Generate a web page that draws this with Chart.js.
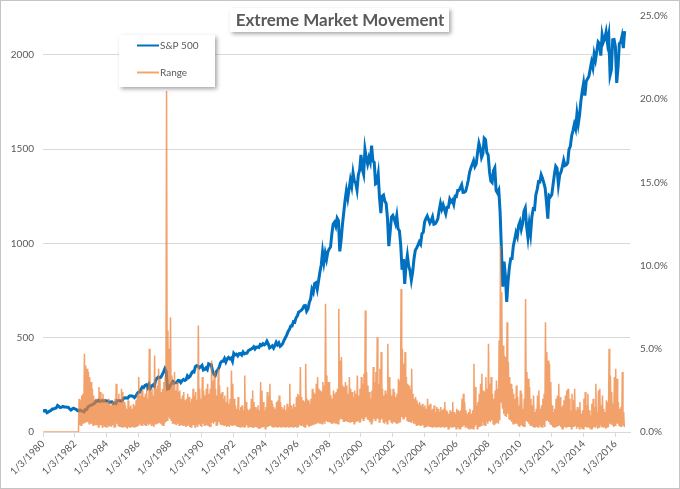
<!DOCTYPE html>
<html>
<head>
<meta charset="utf-8">
<script src="https://cdn.jsdelivr.net/npm/chart.js@4.4.1/dist/chart.umd.min.js"></script>
<style>
  html, body { margin: 0; padding: 0; background: #fff; }
  #wrap { width: 680px; height: 489px; }
</style>
</head>
<body>
<div id="wrap"><canvas id="MarketChart" width="680" height="489"></canvas></div>
<script>
// Extreme Market Movement: S&P 500 (left axis) vs daily range (right axis, %)

const startYear = 1980;

const tickLabels = [
  '1/3/1980', '1/3/1982', '1/3/1984', '1/3/1986', '1/3/1988', '1/3/1990',
  '1/3/1992', '1/3/1994', '1/3/1996', '1/3/1998', '1/3/2000', '1/3/2002',
  '1/3/2004', '1/3/2006', '1/3/2008', '1/3/2010', '1/3/2012', '1/3/2014',
  '1/3/2016'
];

// S&P 500, value at the start of each month, Jan 1980 .. Aug 2016
const spx = [
  105.8, 114.2, 113.7, 102.1, 106.3, 111.2, 114.2, 121.7, 122.4, 125.5, 127.5, 140.5,
  135.8, 129.6, 131.3, 136.0, 132.8, 132.6, 131.2, 130.9, 122.8, 116.2, 121.9, 126.4,
  122.6, 120.4, 113.1, 112.0, 116.4, 111.9, 109.6, 107.1, 119.5, 120.4, 133.7, 138.5,
  140.6, 145.3, 148.1, 153.0, 164.4, 162.4, 168.1, 162.6, 164.4, 166.1, 163.6, 166.4,
  164.9, 163.4, 157.1, 159.2, 160.1, 150.6, 153.2, 150.7, 166.7, 166.1, 166.1, 163.6,
  167.2, 179.6, 181.2, 180.7, 179.8, 189.6, 191.9, 190.9, 188.6, 182.1, 189.8, 202.2,
  211.3, 211.8, 226.9, 238.9, 235.5, 247.4, 250.8, 236.1, 252.9, 231.3, 244.0, 249.2,
  242.2, 274.1, 284.2, 291.7, 288.4, 290.1, 304.0, 318.7, 336.0, 321.8, 228.0, 230.3,
  247.1, 257.1, 267.8, 258.9, 261.3, 262.2, 273.5, 272.0, 261.5, 271.9, 279.0, 273.7,
  277.7, 297.5, 288.9, 294.9, 309.6, 320.5, 318.0, 346.1, 351.5, 349.2, 340.4, 346.0,
  353.4, 329.1, 331.9, 339.9, 330.8, 361.2, 358.0, 356.2, 322.6, 306.1, 300.0, 322.2,
  330.2, 343.9, 367.1, 375.2, 375.3, 389.8, 371.2, 387.8, 395.4, 387.9, 392.5, 375.2,
  417.1, 408.8, 412.7, 403.7, 415.0, 415.4, 408.1, 424.2, 414.0, 417.8, 418.7, 431.4,
  435.7, 438.8, 443.4, 451.7, 440.2, 450.2, 450.5, 448.1, 463.6, 458.9, 467.8, 461.8,
  466.5, 481.6, 467.1, 445.8, 450.9, 456.5, 444.3, 458.3, 475.5, 462.7, 472.4, 453.7,
  459.3, 470.4, 487.4, 500.7, 514.7, 533.4, 544.8, 562.1, 561.9, 584.4, 581.5, 605.4,
  615.9, 636.0, 640.4, 645.5, 654.2, 669.1, 670.6, 640.0, 652.0, 687.3, 705.3, 757.0,
  740.7, 786.2, 790.8, 757.1, 801.3, 848.3, 885.1, 954.3, 899.5, 947.3, 914.6, 955.4,
  970.4, 980.3, 1049.3, 1101.8, 1111.8, 1090.8, 1133.8, 1120.7, 957.3, 1017.0, 1098.7, 1163.6,
  1229.2, 1279.6, 1238.3, 1286.4, 1335.2, 1301.8, 1372.7, 1328.7, 1320.4, 1282.7, 1362.9, 1388.9,
  1469.3, 1394.5, 1366.4, 1498.6, 1452.4, 1420.6, 1454.6, 1430.8, 1517.7, 1436.5, 1429.4, 1315.2,
  1320.3, 1366.0, 1239.9, 1160.3, 1249.5, 1255.8, 1224.4, 1211.2, 1133.6, 985.0, 1059.8, 1139.5,
  1148.1, 1130.2, 1106.7, 1147.4, 1076.9, 1067.1, 989.8, 860.0, 916.1, 785.0, 885.8, 936.3,
  879.8, 855.7, 805.0, 848.2, 916.9, 963.6, 974.5, 990.3, 1008.0, 996.0, 1050.7, 1058.2,
  1111.9, 1131.1, 1144.9, 1126.2, 1107.3, 1120.7, 1140.8, 1101.7, 1104.2, 1114.6, 1130.2, 1173.8,
  1211.9, 1181.3, 1203.6, 1180.6, 1156.9, 1191.5, 1191.3, 1234.2, 1220.3, 1228.8, 1207.0, 1249.5,
  1248.3, 1280.1, 1280.7, 1294.9, 1310.6, 1270.1, 1270.2, 1276.7, 1303.8, 1335.9, 1377.9, 1400.6,
  1418.3, 1438.2, 1406.8, 1420.9, 1482.4, 1530.6, 1503.4, 1455.3, 1474.0, 1557.0, 1549.4, 1481.1,
  1468.4, 1378.6, 1330.6, 1322.7, 1385.6, 1400.4, 1280.0, 1267.4, 1282.8, 1166.4, 968.8, 770.0,
  903.3, 825.9, 690.0, 797.9, 872.8, 919.1, 919.3, 987.5, 1020.6, 1057.1, 1036.2, 1095.6,
  1115.1, 1073.9, 1104.5, 1169.4, 1186.7, 1089.4, 1030.7, 1101.6, 1049.3, 1141.2, 1183.3, 1180.6,
  1257.6, 1286.1, 1327.2, 1325.8, 1363.6, 1345.2, 1320.6, 1292.3, 1218.9, 1131.4, 1253.3, 1247.0,
  1257.6, 1312.4, 1365.7, 1408.5, 1397.9, 1310.3, 1362.2, 1379.3, 1406.6, 1440.7, 1412.2, 1416.2,
  1426.2, 1498.1, 1514.7, 1569.2, 1597.6, 1630.7, 1606.3, 1685.7, 1633.0, 1681.6, 1756.5, 1805.8,
  1848.4, 1782.6, 1859.5, 1872.3, 1884.0, 1923.6, 1960.2, 1930.7, 2003.4, 1972.3, 2018.0, 2067.6,
  2058.9, 1995.0, 2104.5, 2067.9, 2085.5, 2120.0, 2063.1, 2103.8, 1890.0, 1920.0, 2079.4, 2080.4,
  2043.9, 1850.0, 1932.2, 2059.7, 2065.3, 2096.9, 2035.0, 2125.0
];

// Range (%), largest daily range in each month, Jan 1980 .. Jul 2016
const rangeHigh = [
  0, 0, 0, 0, 0, 0, 0, 0, 0, 0, 0, 0,
  0, 0, 0, 0, 0, 0, 0, 0, 0, 0, 0, 0,
  0, 0, 0, 2.0, 1.9, 2.2, 2.3, 4.7, 4.0, 3.8, 3.6, 3.3,
  3.0, 2.6, 2.2, 1.9, 2.0, 1.8, 2.7, 2.4, 2.0, 2.3, 2.0, 1.8,
  1.8, 2.0, 1.7, 1.6, 1.8, 1.7, 2.0, 2.9, 2.0, 2.3, 1.8, 2.6,
  2.4, 1.8, 1.6, 1.4, 1.9, 1.5, 1.6, 1.4, 1.7, 1.6, 1.9, 2.3,
  3.3, 2.2, 2.5, 2.6, 2.1, 2.3, 2.7, 2.0, 5.0, 2.4, 2.6, 2.2,
  4.6, 2.6, 2.8, 3.8, 3.2, 2.4, 2.6, 3.0, 3.4, 20.5, 6.1, 5.0,
  6.9, 3.4, 3.0, 3.6, 2.5, 3.0, 2.4, 2.5, 2.0, 2.2, 2.4, 1.9,
  2.0, 2.3, 2.1, 1.8, 2.0, 2.6, 2.2, 2.4, 1.9, 6.4, 2.6, 2.0,
  3.3, 2.5, 2.2, 2.6, 2.9, 2.3, 2.6, 4.3, 3.1, 3.6, 2.6, 2.2,
  3.8, 2.8, 2.3, 2.4, 2.0, 2.2, 1.8, 2.7, 1.7, 2.0, 3.7, 2.9,
  2.0, 1.6, 1.4, 2.1, 1.3, 1.5, 1.6, 1.3, 3.4, 1.8, 1.4, 1.3,
  1.4, 2.0, 2.5, 1.8, 1.5, 1.4, 1.6, 1.3, 3.0, 2.5, 1.8, 1.3,
  1.5, 2.4, 2.2, 2.9, 1.9, 1.7, 1.5, 1.4, 1.8, 1.9, 2.2, 1.8,
  1.5, 1.4, 1.6, 1.3, 1.7, 1.5, 2.9, 1.6, 1.4, 1.7, 1.5, 2.1,
  2.3, 2.2, 3.9, 2.1, 1.9, 1.8, 4.1, 2.0, 1.9, 1.7, 2.0, 2.6,
  2.4, 2.3, 2.9, 3.3, 2.6, 2.5, 2.4, 3.0, 2.8, 7.7, 3.4, 3.0,
  3.0, 2.2, 2.0, 2.5, 2.3, 2.4, 2.6, 7.4, 4.3, 4.5, 2.8, 2.7,
  3.0, 2.8, 2.3, 3.3, 2.6, 2.4, 2.1, 2.5, 2.3, 3.4, 2.2, 2.6,
  3.3, 2.9, 3.5, 7.3, 3.6, 2.8, 2.4, 2.0, 2.5, 3.9, 3.0, 3.6,
  5.7, 2.9, 3.8, 4.8, 2.6, 2.2, 2.5, 2.3, 5.3, 3.3, 2.6, 2.2,
  2.6, 2.4, 2.1, 2.3, 3.2, 3.1, 8.6, 5.0, 4.1, 4.8, 3.3, 2.9,
  2.8, 2.6, 3.8, 2.3, 2.0, 2.1, 1.9, 1.7, 1.8, 1.6, 1.7, 1.5,
  1.6, 1.4, 2.0, 1.6, 1.7, 1.3, 1.4, 1.6, 1.2, 1.5, 1.4, 1.2,
  1.5, 1.3, 1.4, 1.8, 1.3, 1.2, 1.1, 1.3, 1.2, 1.8, 1.2, 1.1,
  1.4, 1.3, 1.2, 1.3, 2.0, 2.3, 1.8, 1.3, 1.1, 1.2, 1.4, 1.1,
  1.3, 4.1, 2.7, 1.6, 1.8, 2.3, 2.9, 3.5, 2.5, 2.4, 3.3, 2.6,
  5.3, 2.9, 3.3, 2.3, 2.0, 2.5, 3.1, 2.6, 5.5, 11.2, 8.4, 5.2,
  4.6, 4.5, 6.6, 4.2, 3.3, 2.9, 2.6, 2.3, 2.0, 2.8, 2.1, 1.6,
  2.5, 2.3, 1.4, 2.0, 8.0, 3.6, 3.2, 2.7, 2.0, 1.6, 2.2, 1.2,
  1.4, 2.2, 2.5, 1.4, 1.6, 2.0, 2.3, 6.6, 4.8, 4.3, 4.1, 3.0,
  1.6, 1.2, 1.4, 2.0, 2.2, 2.9, 2.1, 1.5, 1.6, 1.9, 2.2, 2.5,
  2.6, 2.0, 1.3, 2.3, 1.9, 2.6, 1.3, 1.5, 1.4, 1.8, 1.1, 1.3,
  2.0, 2.4, 1.6, 2.3, 1.3, 1.0, 1.7, 2.0, 1.5, 2.9, 1.2, 2.5,
  2.6, 1.6, 2.2, 1.4, 1.2, 1.9, 1.8, 5.0, 3.4, 2.4, 1.7, 3.3,
  3.8, 3.2, 1.8, 1.4, 1.5, 3.6, 1.2
];

// Range (%), smallest daily range in each month
const rangeLow = [
  0, 0, 0, 0, 0, 0, 0, 0, 0, 0, 0, 0,
  0, 0, 0, 0, 0, 0, 0, 0, 0, 0, 0, 0,
  0, 0, 0, 0.4, 0.4, 0.5, 0.5, 0.6, 0.6, 0.6, 0.5, 0.5,
  0.5, 0.4, 0.4, 0.4, 0.4, 0.3, 0.4, 0.4, 0.3, 0.4, 0.3, 0.3,
  0.4, 0.3, 0.4, 0.3, 0.4, 0.3, 0.3, 0.5, 0.4, 0.3, 0.3, 0.3,
  0.3, 0.3, 0.3, 0.2, 0.3, 0.3, 0.3, 0.3, 0.3, 0.3, 0.3, 0.4,
  0.5, 0.4, 0.4, 0.5, 0.4, 0.4, 0.5, 0.4, 0.5, 0.4, 0.4, 0.3,
  0.5, 0.5, 0.5, 0.6, 0.5, 0.4, 0.4, 0.5, 0.6, 0.7, 0.9, 0.8,
  0.7, 0.5, 0.5, 0.5, 0.4, 0.5, 0.4, 0.4, 0.4, 0.4, 0.4, 0.3,
  0.4, 0.4, 0.3, 0.3, 0.4, 0.4, 0.3, 0.4, 0.3, 0.5, 0.4, 0.3,
  0.5, 0.4, 0.4, 0.4, 0.4, 0.3, 0.3, 0.6, 0.5, 0.6, 0.4, 0.4,
  0.6, 0.5, 0.4, 0.4, 0.4, 0.4, 0.3, 0.4, 0.3, 0.4, 0.4, 0.4,
  0.4, 0.4, 0.3, 0.3, 0.3, 0.3, 0.3, 0.3, 0.3, 0.4, 0.3, 0.3,
  0.3, 0.3, 0.3, 0.3, 0.3, 0.3, 0.2, 0.2, 0.3, 0.3, 0.3, 0.2,
  0.3, 0.3, 0.4, 0.4, 0.3, 0.3, 0.3, 0.3, 0.3, 0.3, 0.3, 0.3,
  0.3, 0.3, 0.3, 0.3, 0.3, 0.3, 0.3, 0.3, 0.3, 0.3, 0.3, 0.3,
  0.3, 0.4, 0.4, 0.4, 0.3, 0.3, 0.5, 0.4, 0.3, 0.4, 0.4, 0.4,
  0.5, 0.5, 0.5, 0.6, 0.5, 0.5, 0.5, 0.6, 0.5, 0.7, 0.6, 0.6,
  0.6, 0.5, 0.5, 0.6, 0.5, 0.5, 0.5, 0.7, 0.8, 0.8, 0.6, 0.6,
  0.7, 0.6, 0.6, 0.6, 0.6, 0.6, 0.5, 0.6, 0.6, 0.7, 0.6, 0.6,
  0.8, 0.7, 0.8, 0.9, 0.8, 0.7, 0.6, 0.5, 0.6, 0.8, 0.7, 0.8,
  0.8, 0.6, 0.7, 0.8, 0.6, 0.5, 0.6, 0.5, 0.7, 0.7, 0.6, 0.5,
  0.6, 0.6, 0.5, 0.5, 0.6, 0.6, 0.9, 0.8, 0.8, 0.9, 0.7, 0.6,
  0.6, 0.6, 0.7, 0.5, 0.5, 0.4, 0.4, 0.4, 0.4, 0.4, 0.4, 0.3,
  0.3, 0.3, 0.4, 0.3, 0.3, 0.3, 0.3, 0.3, 0.3, 0.3, 0.3, 0.3,
  0.3, 0.3, 0.3, 0.3, 0.3, 0.2, 0.2, 0.3, 0.3, 0.3, 0.3, 0.2,
  0.3, 0.2, 0.2, 0.3, 0.3, 0.4, 0.3, 0.3, 0.2, 0.2, 0.2, 0.2,
  0.2, 0.3, 0.4, 0.2, 0.3, 0.3, 0.4, 0.6, 0.4, 0.4, 0.6, 0.5,
  0.7, 0.6, 0.7, 0.5, 0.4, 0.5, 0.6, 0.5, 0.7, 1.8, 1.4, 1.1,
  1.0, 0.9, 1.1, 0.8, 0.7, 0.6, 0.5, 0.5, 0.5, 0.5, 0.4, 0.3,
  0.4, 0.4, 0.3, 0.3, 0.7, 0.6, 0.5, 0.4, 0.4, 0.3, 0.3, 0.3,
  0.3, 0.3, 0.4, 0.3, 0.3, 0.4, 0.3, 0.7, 0.7, 0.6, 0.5, 0.4,
  0.3, 0.3, 0.3, 0.3, 0.4, 0.4, 0.3, 0.2, 0.2, 0.3, 0.3, 0.3,
  0.3, 0.3, 0.2, 0.3, 0.3, 0.4, 0.2, 0.3, 0.2, 0.3, 0.2, 0.2,
  0.3, 0.3, 0.3, 0.3, 0.2, 0.2, 0.2, 0.3, 0.3, 0.4, 0.2, 0.3,
  0.4, 0.3, 0.3, 0.3, 0.2, 0.3, 0.3, 0.5, 0.5, 0.4, 0.3, 0.4,
  0.5, 0.5, 0.4, 0.3, 0.3, 0.4, 0.3
];

// month index -> position on the date axis (in years)
function monthPos(i, frac) {
  return startYear + (i + frac) / 12;
}

const spxPoints = spx.map((v, i) => ({ x: monthPos(i, 0), y: v }));

const rangePoints = [];
rangeHigh.forEach((hi, i) => {
  rangePoints.push({ x: monthPos(i, 0.25), y: hi });
  rangePoints.push({ x: monthPos(i, 0.75), y: rangeLow[i] });
});

const tickYears = tickLabels.map(l => parseInt(l.split('/')[2], 10));

const textColor = '#595959';
const gridColor = '#d9d9d9';
const fontFamily = 'Lato, "Open Sans", sans-serif';

const dataMarket = {
  datasets: [{
    label: 'Range',
    data: rangePoints,
    yAxisID: 'yRange',
    borderColor: 'rgba(237,125,49,0.72)',
    borderWidth: 1.5,
    pointRadius: 0,
    order: 0
  }, {
    label: 'S&P 500',
    data: spxPoints,
    yAxisID: 'ySpx',
    borderColor: '#0070C0',
    borderWidth: 3,
    pointRadius: 0,
    order: 1
  }]
};

// title box, legend box and outer frame
const decorPlugin = {
  id: 'decor',
  afterDraw(chart) {
    const ctx = chart.ctx;
    const title = 'Extreme Market Movement';

    // title box
    ctx.save();
    ctx.shadowColor = 'rgba(0,0,0,0.35)';
    ctx.shadowBlur = 4;
    ctx.shadowOffsetX = 2;
    ctx.shadowOffsetY = 2;
    ctx.fillStyle = '#fff';
    ctx.fillRect(230, 8, 219, 24);
    ctx.restore();

    ctx.save();
    let size = 18;
    ctx.font = 'bold ' + size + 'px ' + fontFamily;
    while (ctx.measureText(title).width > 211 && size > 10) {
      size -= 0.5;
      ctx.font = 'bold ' + size + 'px ' + fontFamily;
    }
    ctx.fillStyle = textColor;
    ctx.textAlign = 'center';
    ctx.textBaseline = 'middle';
    ctx.fillText(title, 340, 21);
    ctx.restore();

    // legend box
    ctx.save();
    ctx.shadowColor = 'rgba(0,0,0,0.35)';
    ctx.shadowBlur = 4;
    ctx.shadowOffsetX = 2;
    ctx.shadowOffsetY = 2;
    ctx.fillStyle = '#fff';
    ctx.fillRect(119, 35, 96, 52);
    ctx.restore();

    const entries = [chart.data.datasets[1], chart.data.datasets[0]];
    ctx.save();
    ctx.font = '10px ' + fontFamily;
    ctx.textBaseline = 'middle';
    entries.forEach((ds, k) => {
      const y = 45.5 + k * 27;
      ctx.strokeStyle = k === 0 ? '#0070C0' : '#F4A46C';
      ctx.lineWidth = 2;
      ctx.beginPath();
      ctx.moveTo(137, y);
      ctx.lineTo(159, y);
      ctx.stroke();
      ctx.fillStyle = textColor;
      ctx.fillText(ds.label, 160, y);
    });
    ctx.restore();

    // frame
    ctx.save();
    ctx.strokeStyle = '#c4c4c4';
    ctx.lineWidth = 1;
    ctx.strokeRect(0.5, 0.5, chart.width - 1, chart.height - 1);
    ctx.restore();
  }
};

const configMarket = {
  type: 'line',
  data: dataMarket,
  plugins: [decorPlugin],
  options: {
    responsive: false,
    animation: false,
    layout: { padding: { top: 13, left: 0, right: 0, bottom: 0 } },
    plugins: {
      legend: { display: false },
      title: { display: false },
      tooltip: { enabled: false }
    },
    elements: { line: { tension: 0 } },
    scales: {
      x: {
        type: 'linear',
        min: 1980,
        max: 2016.92,
        afterBuildTicks: (scale) => {
          scale.ticks = tickYears.map(v => ({ value: v }));
        },
        afterFit: (scale) => { scale.height = 57; },
        ticks: {
          autoSkip: false,
          minRotation: 45,
          maxRotation: 45,
          padding: 1,
          color: textColor,
          font: { family: fontFamily, size: 10 },
          callback: (v, i) => tickLabels[i]
        },
        grid: {
          drawOnChartArea: false,
          drawTicks: true,
          tickLength: 5,
          color: gridColor
        },
        border: { display: true, color: gridColor }
      },
      ySpx: {
        type: 'linear',
        position: 'left',
        min: 0,
        max: 2205,
        afterBuildTicks: (scale) => {
          scale.ticks = [0, 500, 1000, 1500, 2000].map(v => ({ value: v }));
        },
        afterFit: (scale) => { scale.width = 43; },
        ticks: {
          padding: 9,
          color: textColor,
          font: { family: fontFamily, size: 10 },
          callback: (v) => String(v)
        },
        grid: { color: gridColor, drawTicks: false },
        border: { display: false }
      },
      yRange: {
        type: 'linear',
        position: 'right',
        min: 0,
        max: 25,
        afterBuildTicks: (scale) => {
          scale.ticks = [0, 5, 10, 15, 20, 25].map(v => ({ value: v }));
        },
        afterFit: (scale) => { scale.width = 50; },
        ticks: {
          padding: 10,
          color: textColor,
          font: { family: fontFamily, size: 10 },
          callback: (v) => v.toFixed(1) + '%'
        },
        grid: { drawOnChartArea: false, drawTicks: false },
        border: { display: false }
      }
    }
  }
};

const Market_Chart = new Chart(
  document.getElementById('MarketChart'),
  configMarket
);
</script>
</body>
</html>
